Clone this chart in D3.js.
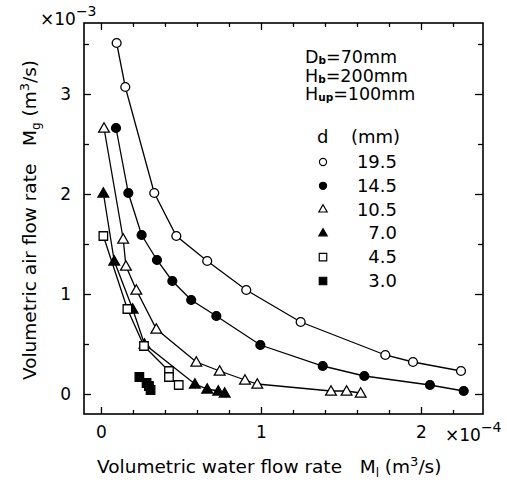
<!DOCTYPE html>
<html><head><meta charset="utf-8">
<script src="https://cdn.jsdelivr.net/npm/d3@7"></script>
<style>body{margin:0;background:#fff}svg{display:block}text{font-family:"DejaVu Sans",sans-serif;fill:#000;white-space:pre}</style>
</head><body><svg id="c" width="507" height="482"></svg>
<script>
// x in units of 1e-4 m^3/s, y in units of 1e-3 m^3/s
const d195x=[0.098,0.152,0.333,0.471,0.664,0.908,1.248,1.777,1.95,2.25];
const d195y=[3.51,3.07,2.01,1.58,1.33,1.04,0.72,0.39,0.32,0.23];
const d145x=[0.094,0.171,0.254,0.35,0.446,0.564,0.721,0.996,1.386,1.646,2.056,2.267];
const d145y=[2.66,2.01,1.59,1.34,1.13,0.94,0.78,0.49,0.28,0.18,0.09,0.03];
const d105x=[0.019,0.139,0.156,0.221,0.346,0.596,0.742,0.90,0.977,1.4375,1.535,1.623];
const d105y=[2.66,1.55,1.28,1.04,0.65,0.32,0.23,0.14,0.10,0.03,0.03,0.01];
const d70x=[0.015,0.083,0.198,0.272,0.587,0.664,0.733,0.773];
const d70y=[2.01,1.33,0.85,0.50,0.10,0.05,0.03,0.01];
const d45x=[0.015,0.165,0.269,0.425,0.425,0.486];
const d45y=[1.58,0.85,0.48,0.23,0.17,0.09];
const d30x=[0.24,0.285,0.30,0.31];
const d30y=[0.17,0.11,0.08,0.04];
const legendLabels=["19.5","14.5","10.5","7.0","4.5","3.0"];
const xMajor=[0,1,2], yMajor=[0,1,2,3];
const xMinor=[0.2,0.4,0.6,0.8,1.2,1.4,1.6,1.8,2.2];
const yMinor=[0.5,1.5,2.5,3.5];
const annoLines=[["D","b","=70mm"],["H","b","=200mm"],["H","up","=100mm"]];

const seriesList=[
 {x:d195x,y:d195y,shape:"circle",fill:false,line:true},
 {x:d145x,y:d145y,shape:"circle",fill:true,line:true},
 {x:d105x,y:d105y,shape:"triangle",fill:false,line:true},
 {x:d70x,y:d70y,shape:"triangle",fill:true,line:true},
 {x:d45x,y:d45y,shape:"square",fill:false,line:true},
 {x:d30x,y:d30y,shape:"square",fill:true,line:false}
];

const svg=d3.select("#c");
const L=84,R=483,T=23,B=414;
const x=d3.scaleLinear().domain([-0.106,2.3875]).range([L,R]);
const y=d3.scaleLinear().domain([-0.2,3.71]).range([B,T]);

function sym(shape,size){
  const m={circle:d3.symbolCircle,triangle:d3.symbolTriangle,square:d3.symbolSquare}[shape];
  return d3.symbol().type(m).size(size)();
}

svg.append("rect").attr("x",L).attr("y",T).attr("width",R-L).attr("height",B-T)
  .attr("fill","none").attr("stroke","#000").attr("stroke-width",1.6);

function axisDraw(gen,tr){
  const g=svg.append("g").attr("transform",tr).call(gen);
  g.select(".domain").remove();
  g.selectAll("line").attr("stroke","#000").attr("stroke-width",1.3);
  g.selectAll("text").attr("font-size",17).attr("font-family","DejaVu Sans, sans-serif");
  return g;
}
axisDraw(d3.axisBottom(x).tickValues(xMajor).tickSize(-7).tickPadding(12).tickFormat(d3.format("d")),`translate(0,${B})`);
axisDraw(d3.axisBottom(x).tickValues(xMinor).tickSize(-4).tickFormat(""),`translate(0,${B})`);
axisDraw(d3.axisTop(x).tickValues(xMajor).tickSize(-7).tickFormat(""),`translate(0,${T})`);
axisDraw(d3.axisTop(x).tickValues(xMinor).tickSize(-4).tickFormat(""),`translate(0,${T})`);
axisDraw(d3.axisLeft(y).tickValues(yMajor).tickSize(-7).tickPadding(13).tickFormat(d3.format("d")),`translate(${L},0)`);
axisDraw(d3.axisLeft(y).tickValues(yMinor).tickSize(-5).tickFormat(""),`translate(${L},0)`);
axisDraw(d3.axisRight(y).tickValues(yMajor).tickSize(-8).tickFormat(""),`translate(${R},0)`);
axisDraw(d3.axisRight(y).tickValues(yMinor).tickSize(-5).tickFormat(""),`translate(${R},0)`);

const line=d3.line().x(d=>x(d[0])).y(d=>y(d[1]));
seriesList.forEach(s=>{
  const pts=s.x.map((v,i)=>[v,s.y[i]]);
  if(s.line) svg.append("path").attr("d",line(pts)).attr("fill","none").attr("stroke","#000").attr("stroke-width",1.3);
});
seriesList.forEach(s=>{
  const pts=s.x.map((v,i)=>[v,s.y[i]]);
  const sz={circle:62,triangle:50,square:72}[s.shape];
  svg.append("g").selectAll("path").data(pts).join("path")
    .attr("d",sym(s.shape,sz))
    .attr("transform",d=>`translate(${x(d[0])},${y(d[1])+(s.shape==="triangle"?1:0)})`)
    .attr("fill",s.fill?"#000":"#fff").attr("stroke","#000").attr("stroke-width",1.3);
});

const m3=svg.append("text").attr("x",40).attr("y",25).attr("font-size",17);
m3.append("tspan").text("×10");
m3.append("tspan").attr("dy",-9).attr("font-size",14).text("−3");
const m4=svg.append("text").attr("x",445).attr("y",441).attr("font-size",17);
m4.append("tspan").text("×10");
m4.append("tspan").attr("dy",-9).attr("font-size",14).text("−4");

// annotation block as one text element
const an=svg.append("text").attr("x",305).attr("y",63).attr("font-size",17.5);
const baseYs=[63,82,100];
annoLines.forEach((l,i)=>{
  an.append("tspan").attr("x",305).attr("y",baseYs[i]).text(l[0]);
  an.append("tspan").attr("y",baseYs[i]+1).attr("font-size",10.5).attr("font-weight","bold").text(l[1]);
  an.append("tspan").attr("y",baseYs[i]).text(l[2]);
});

svg.append("text").attr("x",317).attr("y",143).attr("font-size",18).text("d");
svg.append("text").attr("x",351).attr("y",143).attr("font-size",18).text("(mm)");
seriesList.forEach((s,i)=>{
  const cy=162+i*23.8;
  const sz={circle:40,triangle:30,square:56}[s.shape];
  svg.append("path").attr("d",sym(s.shape,sz)).attr("transform",`translate(323,${cy})`)
    .attr("fill",s.fill?"#000":"#fff").attr("stroke","#000").attr("stroke-width",1.2);
  svg.append("text").attr("x",397).attr("y",cy+6).attr("text-anchor","end").attr("font-size",18).text(legendLabels[i]);
});

const xt=svg.append("text").attr("x",97).attr("y",473).attr("font-size",18.5);
xt.append("tspan").text("Volumetric water flow rate   M");
xt.append("tspan").attr("dy",4).attr("font-size",12).text("l");
xt.append("tspan").attr("dy",-4).text(" (m");
xt.append("tspan").attr("dy",-7).attr("font-size",13).text("3");
xt.append("tspan").attr("dy",7).text("/s)");

const yt=svg.append("text").attr("transform","translate(36,220) rotate(-90)").attr("text-anchor","middle").attr("font-size",18.5);
yt.append("tspan").text("Volumetric air flow rate   M");
yt.append("tspan").attr("dy",4).attr("font-size",12).text("g");
yt.append("tspan").attr("dy",-4).text(" (m");
yt.append("tspan").attr("dy",-7).attr("font-size",13).text("3");
yt.append("tspan").attr("dy",7).text("/s)");
</script></body></html>
